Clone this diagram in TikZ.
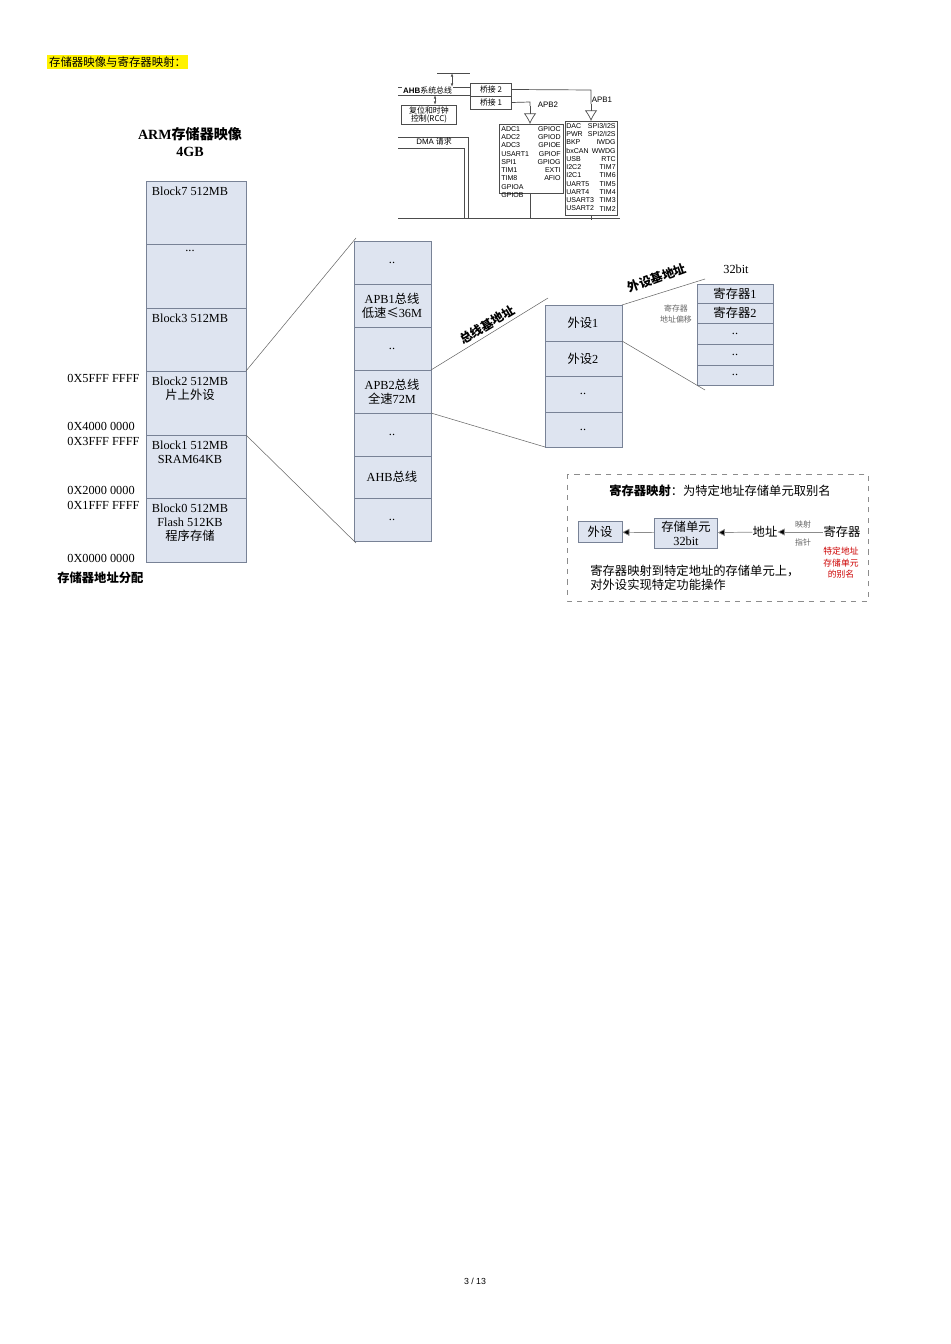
\documentclass[tikz,border=0pt]{standalone}
\usepackage{fontspec}
\setmainfont{Liberation Serif}
\setsansfont{Liberation Sans}
\newfontfamily\cjk{Noto Sans CJK SC}
\usetikzlibrary{arrows.meta}
\definecolor{cellblue}{RGB}{222,228,240}
\definecolor{cellline}{RGB}{120,130,150}
\begin{document}
\begin{tikzpicture}[x=0.02cm,y=-0.02cm,
                    cell/.style={draw=cellline, fill=cellblue},
                    txt/.style={font=\fontsize{7}{8}\selectfont, align=center, inner sep=0pt},
                    small/.style={font=\fontsize{4.5}{5.5}\selectfont, align=center, inner sep=0pt},
                    link/.style={draw=black!60, line width=0.3pt},
                    reg_arrow/.style={draw=black!45, -{Triangle[length=4pt,width=4pt,fill=black]}}]
\useasboundingbox (0,0) rectangle (950,1344);
\node[txt, font=\cjk\fontsize{6.5}{7}\selectfont, fill=yellow, inner sep=1pt, anchor=west] (title) at (47,62) {存储器映像与寄存器映射：};
% memory map
\node[txt, font=\bfseries\fontsize{8}{10}\selectfont] (armtitle) at (190,142) {ARM{\cjk 存储器映像}\\4GB};
\foreach \top/\bot/\lab [count=\i] in {181/244/{Block7 512MB}, 244/308/{...}, 308/371/{Block3 512MB},
    371/435/{Block2 512MB\\{\cjk 片上外设}}, 435/498/{Block1 512MB\\SRAM64KB},
    498/562/{Block0 512MB\\Flash 512KB\\{\cjk 程序存储}}}
{
  \draw[cell] (146,\top) rectangle (246,\bot);
  \node[txt, anchor=north] (blk\i) at (190,\top+6) {\lab};
}
\foreach \y/\lab [count=\i] in {378/{0X5FFF FFFF}, 426/{0X4000 0000}, 441/{0X3FFF FFFF},
    490/{0X2000 0000}, 505/{0X1FFF FFFF}, 558/{0X0000 0000}}
  \node[txt, anchor=west] (addr\i) at (67,\y) {\lab};
\node[txt, font=\cjk\bfseries\fontsize{7}{8}\selectfont, anchor=west] (alloc) at (57,578) {存储器地址分配};
% bus column
\foreach \top/\bot/\lab [count=\i] in {241/284/{..}, 284/327/{APB1{\cjk 总线}\\{\cjk 低速≤}36M}, 327/370/{..},
    370/413/{APB2{\cjk 总线}\\{\cjk 全速}72M}, 413/456/{..}, 456/498/{AHB{\cjk 总线}}, 498/541/{..}}
{
  \draw[cell] (354,\top) rectangle (431,\bot);
  \node[txt] (bus\i) at (392,{(\top+\bot)/2}) {\lab};
}
\draw[link] (246,371) -- (356,238);
\draw[link] (246,435) -- (356,543);
% peripheral column
\foreach \top/\bot/\lab [count=\i] in {305/341/{{\cjk 外设}1}, 341/376/{{\cjk 外设}2}, 376/412/{..}, 412/447/{..}}
{
  \draw[cell] (545,\top) rectangle (622,\bot);
  \node[txt] (per\i) at (583,{(\top+\bot)/2}) {\lab};
}
\draw[link] (431,370) -- (548,298);
\draw[link] (431,413) -- (545,447);
\node[txt, font=\cjk\bfseries\fontsize{7}{8}\selectfont, rotate=31] (busbase) at (487,325) {总线基地址};
% register column
\foreach \top/\bot/\lab [count=\i] in {284/303/{{\cjk 寄存器}1}, 303/323/{{\cjk 寄存器}2}, 323/344/{..}, 344/365/{..}, 365/385/{..}}
{
  \draw[cell] (697,\top) rectangle (773,\bot);
  \node[txt] (reg\i) at (735,{(\top+\bot)/2}) {\lab};
}
\draw[link] (622,305) -- (705,279);
\draw[link] (622,341) -- (705,390);
\node[txt, font=\cjk\bfseries\fontsize{7}{8}\selectfont, rotate=20] (perbase) at (657,278) {外设基地址};
\node[txt] (width) at (736,269) {32bit};
\node[small, font=\cjk\fontsize{4.5}{6}\selectfont, text=black!60] (offset) at (676,314) {寄存器\\地址偏移};
% register mapping box
\draw[black!45, dashed] (567,474) rectangle (868,601);
\node[txt, font=\cjk\fontsize{7}{8}\selectfont] (maptitle) at (720,491) {\textbf{寄存器映射}：为特定地址存储单元取别名};
\node[cell, txt, font=\cjk\fontsize{7}{8}\selectfont, minimum width=0.88cm, minimum height=0.42cm] (dev) at (600,532) {外设};
\node[cell, txt, font=\fontsize{7}{8}\selectfont, minimum width=1.26cm, minimum height=0.6cm] (cellunit) at (686,533) {{\cjk 存储单元}\\32bit};
\node[txt, font=\cjk\fontsize{7}{8}\selectfont] (addrnode) at (765,532) {地址};
\node[txt, font=\cjk\fontsize{7}{8}\selectfont] (regnode) at (842,532) {寄存器};
\node[small, font=\cjk\fontsize{4.5}{5}\selectfont, text=black!60] (maplbl) at (803,525) {映射};
\node[small, font=\cjk\fontsize{4.5}{5}\selectfont, text=black!60] (ptrlbl) at (803,542) {指针};
\node[small, font=\cjk\fontsize{5}{6.5}\selectfont, text=red!80!black] (alias) at (841,563) {特定地址\\存储单元\\的别名};
\node[txt, font=\cjk\fontsize{7}{8}\selectfont, align=left, anchor=west] (mapnote) at (590,578) {寄存器映射到特定地址的存储单元上，\\对外设实现特定功能操作};
\draw[reg_arrow] (regnode) -- (addrnode);
\draw[reg_arrow] (addrnode) -- (cellunit);
\draw[reg_arrow] (cellunit) -- (dev);
% bus sketch
\draw[black!70] (437,73) -- (470,73);
\draw[black!70] (398,87) -- (471,87) (398,95) -- (471,95);
\node[small, font=\fontsize{4.5}{5}\selectfont, anchor=west, fill=white, inner sep=0.5pt] (ahb) at (402,90) {{\sffamily\bfseries AHB}{\cjk 系统总线}};
\node[draw=black!70, small, font=\cjk\fontsize{4.5}{5}\selectfont, minimum width=0.82cm, minimum height=0.26cm] (br2) at (491,89.5) {桥接 2};
\node[draw=black!70, small, font=\cjk\fontsize{4.5}{5}\selectfont, minimum width=0.82cm, minimum height=0.26cm] (br1) at (491,102.5) {桥接 1};
\node[draw=black!70, line width=0.8pt, small, font=\cjk\fontsize{4.5}{5}\selectfont, minimum width=1.1cm, minimum height=0.38cm] (rcc) at (429,115) {复位和时钟\\控制(RCC)};
\draw[black!70, {Latex[open,length=2pt]}-{Latex[open,length=2pt]}] (452,73) -- (452,87);
\draw[black!70, {Latex[open,length=2pt]}-{Latex[open,length=2pt]}] (435,95) -- (435,105);
\node[draw=black!70, minimum width=1.28cm, minimum height=1.38cm, anchor=north west] (apb2box) at (499,124) {};
\node[small, font=\sffamily\fontsize{4}{4.7}\selectfont, align=left, anchor=north west] (apb2l) at (501,126) {ADC1\\ADC2\\ADC3\\USART1\\SPI1\\TIM1\\TIM8\\GPIOA\\GPIOB};
\node[small, font=\sffamily\fontsize{4}{4.7}\selectfont, align=right, anchor=north east] (apb2r) at (561,126) {GPIOC\\GPIOD\\GPIOE\\GPIOF\\GPIOG\\EXTI\\AFIO};
\node[draw=black!70, minimum width=1.04cm, minimum height=1.88cm, anchor=north west] (apb1box) at (565,121) {};
\node[small, font=\sffamily\fontsize{4}{4.7}\selectfont, align=left, anchor=north west] (apb1l) at (566,123) {DAC\\PWR\\BKP\\bxCAN\\USB\\I2C2\\I2C1\\UART5\\UART4\\USART3\\USART2};
\node[small, font=\sffamily\fontsize{4}{4.7}\selectfont, align=right, anchor=north east] (apb1r) at (616,123) {SPI3/I2S\\SPI2/I2S\\IWDG\\WWDG\\RTC\\TIM7\\TIM6\\TIM5\\TIM4\\TIM3\\TIM2};
\draw[black!70] (br1.east) -- (530,102) -- (530,106);
\draw[black!70] (br2.east) -- (591,90) -- (591,104);
\draw[black!70, -{Latex[open,length=6pt,width=7pt]}] (530,106) -- (530,124);
\draw[black!70, -{Latex[open,length=6pt,width=7pt]}] (591,104) -- (591,121);
\node[small, font=\sffamily\fontsize{4.5}{5}\selectfont] (apb2lbl) at (548,105) {APB2};
\node[small, font=\sffamily\fontsize{4.5}{5}\selectfont] (apb1lbl) at (602,100) {APB1};
\draw[black!70] (398,137) -- (468,137) -- (468,218);
\draw[black!70] (398,148) -- (464,148) -- (464,218);
\node[small, font=\fontsize{4.5}{5}\selectfont] (dma) at (434,142) {{\sffamily DMA} {\cjk 请求}};
\draw[black!70] (398,218) -- (620,218);
\draw[black!70] (530,193) -- (530,218) (591,215) -- (591,220);
% page number
\node[txt, font=\sffamily\fontsize{5}{6}\selectfont] (page) at (475,1281) {3 / 13};
\end{tikzpicture}
\end{document}
